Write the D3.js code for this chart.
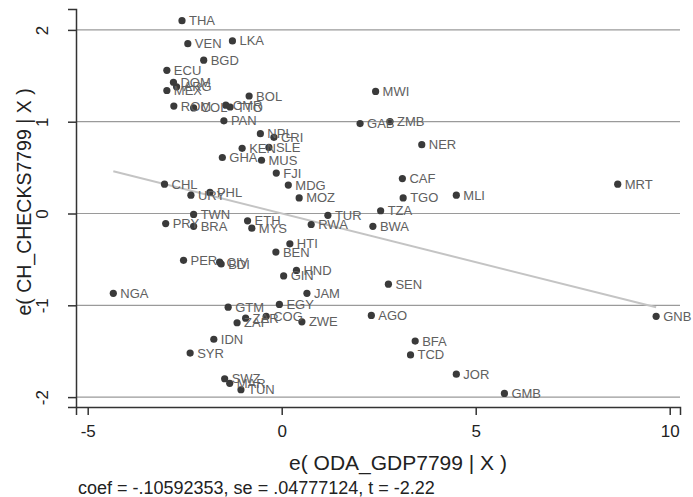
<!DOCTYPE html>
<html>
<head>
<meta charset="utf-8">
<script src="https://cdn.jsdelivr.net/npm/d3@7"></script>
<style>
  body { margin: 0; background: #fff; }
  svg { display: block; font-family: "Liberation Sans", Arial, Helvetica, sans-serif; }
  .grid line { stroke: #9a9a9a; stroke-width: 1.2; }
  .axis path, .axis line { stroke: #333; stroke-width: 1.5; }
  .axis text { fill: #222; font-size: 17px; }
  .pt { fill: #3a3a3a; }
  .lbl { fill: #606060; font-size: 13px; }
</style>
</head>
<body>
<svg id="chart" width="693" height="497"></svg>
<script>
// country codes with their partial residuals
const countries = ['THA', 'VEN', 'LKA', 'BGD', 'ECU', 'DOM', 'ARG', 'MEX', 'ROM', 'COL',
  'CMR', 'TTO', 'BOL', 'PAN', 'NPL', 'CRI', 'KEN', 'SLE', 'GHA', 'MUS',
  'FJI', 'MDG', 'MOZ', 'MWI', 'GAB', 'ZMB', 'NER', 'CAF', 'TGO', 'MLI',
  'TUR', 'TZA', 'RWA', 'BWA', 'HTI', 'MRT', 'GNB', 'GMB', 'HND', 'GIN',
  'JAM', 'EGY', 'ZWE', 'SEN', 'AGO', 'BFA', 'TCD', 'JOR', 'CHL', 'URY',
  'PHL', 'TWN', 'PRY', 'BRA', 'ETH', 'MYS', 'PER', 'CIV', 'BDI', 'BEN',
  'NGA', 'GTM', 'ZAR', 'COG', 'ZAF', 'IDN', 'SYR', 'SWZ', 'MAR', 'TUN'];

const odaResid = [-2.57, -2.42, -1.27, -2.01, -2.96, -2.79, -2.71, -2.96, -2.78, -2.27,
  -1.44, -1.33, -0.84, -1.49, -0.55, -0.20, -1.02, -0.33, -1.53, -0.52,
  -0.14, 0.17, 0.45, 2.42, 2.02, 2.79, 3.61, 3.11, 3.13, 4.50,
  1.19, 2.55, 0.76, 2.35, 0.21, 8.66, 9.65, 5.74, 0.38, 0.05,
  0.65, -0.06, 0.52, 2.75, 2.31, 3.44, 3.32, 4.50, -3.02, -2.34,
  -1.85, -2.27, -2.99, -2.27, -0.88, -0.77, -2.53, -1.60, -1.56, -0.15,
  -4.34, -1.38, -0.93, -0.40, -1.15, -1.75, -2.36, -1.47, -1.34, -1.05];

const checksResid = [2.10, 1.85, 1.88, 1.67, 1.56, 1.43, 1.38, 1.34, 1.17, 1.15,
  1.18, 1.16, 1.28, 1.01, 0.87, 0.83, 0.71, 0.72, 0.61, 0.58,
  0.44, 0.31, 0.17, 1.33, 0.98, 1.00, 0.75, 0.38, 0.17, 0.20,
  -0.02, 0.03, -0.12, -0.14, -0.33, 0.32, -1.12, -1.96, -0.62, -0.68,
  -0.87, -0.99, -1.18, -0.77, -1.11, -1.39, -1.54, -1.75, 0.32, 0.20,
  0.23, -0.01, -0.11, -0.14, -0.08, -0.16, -0.51, -0.53, -0.55, -0.42,
  -0.87, -1.02, -1.14, -1.12, -1.19, -1.37, -1.52, -1.80, -1.85, -1.92];

const xTicks = [-5, 0, 5, 10];
const yTicks = [-2, -1, 0, 1, 2];
const coef = -0.10592353;
const caption = 'coef = -.10592353, se = .04777124, t = -2.22';
const xTitle = 'e( ODA_GDP7799 | X )';
const yTitle = 'e( CH_CHECKS7799 | X )';

const svg = d3.select('#chart');
const plotLeft = 76, plotRight = 680, plotTop = 9, plotBottom = 407;

const x = d3.scaleLinear().domain([-5.3015, 10.265]).range([plotLeft, plotRight]);
const y = d3.scaleLinear().domain([-2.1078, 2.2277]).range([plotBottom, plotTop]);

const points = countries.map((c, i) => ({ code: c, x: odaResid[i], y: checksResid[i] }));

// horizontal grid at the y ticks
svg.append('g')
  .attr('class', 'grid')
  .selectAll('line')
  .data(yTicks)
  .enter()
  .append('line')
  .attr('x1', plotLeft)
  .attr('x2', plotRight)
  .attr('y1', d => y(d))
  .attr('y2', d => y(d));

// fitted line through the origin, spanning the data
const xExt = d3.extent(odaResid);
svg.append('line')
  .attr('x1', x(xExt[0]))
  .attr('y1', y(coef * xExt[0]))
  .attr('x2', x(xExt[1]))
  .attr('y2', y(coef * xExt[1]))
  .attr('stroke', '#c4c4c4')
  .attr('stroke-width', 2);

svg.append('g')
  .selectAll('circle')
  .data(points)
  .enter()
  .append('circle')
  .attr('class', 'pt')
  .attr('cx', d => x(d.x))
  .attr('cy', d => y(d.y))
  .attr('r', 3.6);

svg.append('g')
  .selectAll('text')
  .data(points)
  .enter()
  .append('text')
  .attr('class', 'lbl')
  .attr('x', d => x(d.x) + 7)
  .attr('y', d => y(d.y))
  .attr('dy', '0.35em')
  .text(d => d.code);

// axes, plain hyphen for negatives as in the original
const plainFmt = d => String(d);

svg.append('g')
  .attr('class', 'axis')
  .attr('transform', `translate(0, ${plotBottom})`)
  .call(d3.axisBottom(x).tickValues(xTicks).tickFormat(plainFmt).tickSizeOuter(0).tickSize(8).tickPadding(10));

const yAxis = svg.append('g')
  .attr('class', 'axis')
  .attr('transform', `translate(${plotLeft}, 0)`)
  .call(d3.axisLeft(y).tickValues(yTicks).tickFormat(plainFmt).tickSizeOuter(0).tickSize(8));
yAxis.selectAll('.tick text')
  .attr('x', 0)
  .attr('y', 0)
  .attr('dy', null)
  .attr('text-anchor', 'middle')
  .attr('transform', 'translate(-28, 0) rotate(-90)');

svg.append('text')
  .attr('x', (plotLeft + plotRight) / 2 + 20)
  .attr('y', 470)
  .attr('text-anchor', 'middle')
  .attr('font-size', 21)
  .attr('fill', '#222')
  .text(xTitle);

svg.append('text')
  .attr('transform', `translate(31, 202) rotate(-90)`)
  .attr('text-anchor', 'middle')
  .attr('font-size', 19.5)
  .attr('fill', '#222')
  .text(yTitle);

svg.append('text')
  .attr('x', 78)
  .attr('y', 494)
  .attr('font-size', 18)
  .attr('fill', '#222')
  .text(caption);
</script>
</body>
</html>
